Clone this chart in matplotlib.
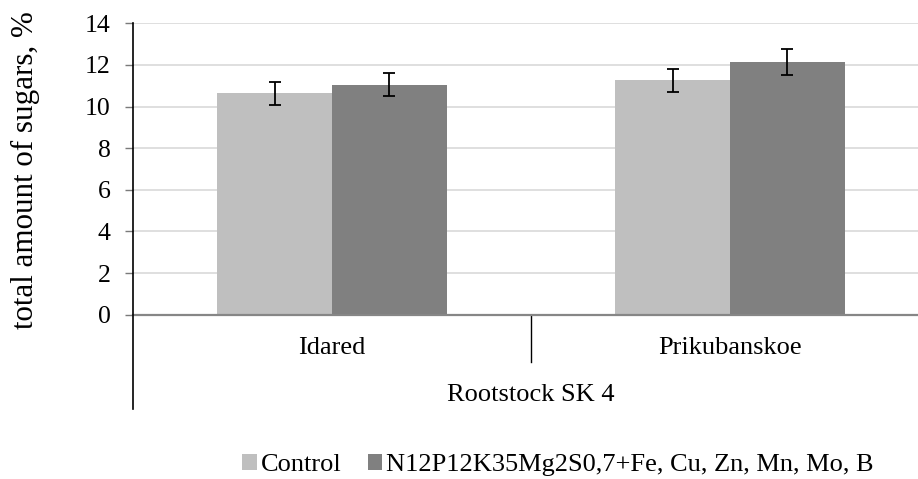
import numpy as np
import matplotlib.pyplot as plt
from matplotlib.lines import Line2D
from matplotlib.patches import Patch
from matplotlib.transforms import blended_transform_factory

# --- Datos ---
varieties = ["Idared", "Prikubanskoe"]
group_label = "Rootstock SK 4"
series_names = ["Control", "N12P12K35Mg2S0,7+Fe, Cu, Zn, Mn, Mo, B"]
control = [10.64, 11.26]
treatment = [11.05, 12.15]
control_err = [0.55, 0.56]
treatment_err = [0.56, 0.61]
y_ticks = [0, 2, 4, 6, 8, 10, 12, 14]

colors = ["#BFBFBF", "#808080"]

plt.rcParams['font.family'] = ['Liberation Serif', 'DejaVu Serif']

W, H = 918, 479
fig = plt.figure(figsize=(W / 100, H / 100), dpi=100)


def fx(px):
    return px / W


def fy(py):
    return 1 - py / H


# área del gráfico (se extiende un poco más allá del borde derecho)
left, right, top, bottom = 133, 929, 23.3, 314.7
ax = fig.add_axes([fx(left), fy(bottom), fx(right - left), (bottom - top) / H])

x = np.arange(len(varieties))
width = 0.288

ax.bar(x - width / 2, control, width, color=colors[0], zorder=2)
ax.bar(x + width / 2, treatment, width, color=colors[1], zorder=2)
ax.errorbar(x - width / 2, control, yerr=control_err, fmt='none',
            ecolor='black', elinewidth=1.3, capsize=4.5, capthick=1.3, zorder=3)
ax.errorbar(x + width / 2, treatment, yerr=treatment_err, fmt='none',
            ecolor='black', elinewidth=1.3, capsize=4.5, capthick=1.3, zorder=3)

ax.set_xlim(-0.5, len(varieties) - 0.5)
ax.set_ylim(0, 14)
ax.set_yticks(y_ticks)
ax.set_yticklabels([str(t) for t in y_ticks], fontsize=18.5)
ax.tick_params(axis='y', length=6, width=1, color='#7a7a7a', pad=10)
ax.set_xticks([])
ax.yaxis.grid(True, color='#D9D9D9', linewidth=1.2)
ax.set_axisbelow(True)
for s in ax.spines.values():
    s.set_visible(False)

# línea del cero y eje vertical
ax.axhline(0, color='#868686', linewidth=1.6, zorder=4, clip_on=False)
fig.add_artist(Line2D([fx(left), fx(left)], [fy(top), fy(409)],
                      color='black', linewidth=1.2))

# etiquetas de categorías en dos niveles
tr = blended_transform_factory(ax.transData, fig.transFigure)
for i, name in enumerate(varieties):
    ax.text(i, fy(348), name, transform=tr, ha='center', va='center',
            fontsize=19, clip_on=False)
for i in range(len(varieties) - 1):
    ax.add_artist(Line2D([i + 0.5, i + 0.5], [fy(bottom), fy(362)],
                         transform=tr, color='black', linewidth=1.0,
                         clip_on=False))
ax.text((len(varieties) - 1) / 2, fy(395), group_label, transform=tr,
        ha='center', va='center', fontsize=19, clip_on=False)

fig.text(fx(25), fy(170), "total amount of sugars, %", rotation=90,
         ha='center', va='center', fontsize=22.3)

handles = [Patch(facecolor=c, edgecolor='none') for c in colors]
fig.legend(handles, series_names, loc='center', bbox_to_anchor=(fx(558), fy(465)),
           ncol=2, frameon=False, fontsize=19, handlelength=0.55,
           handleheight=0.55, handletextpad=0.15, columnspacing=1.0)

fig.savefig("out.png", dpi=100)
plt.close(fig)
